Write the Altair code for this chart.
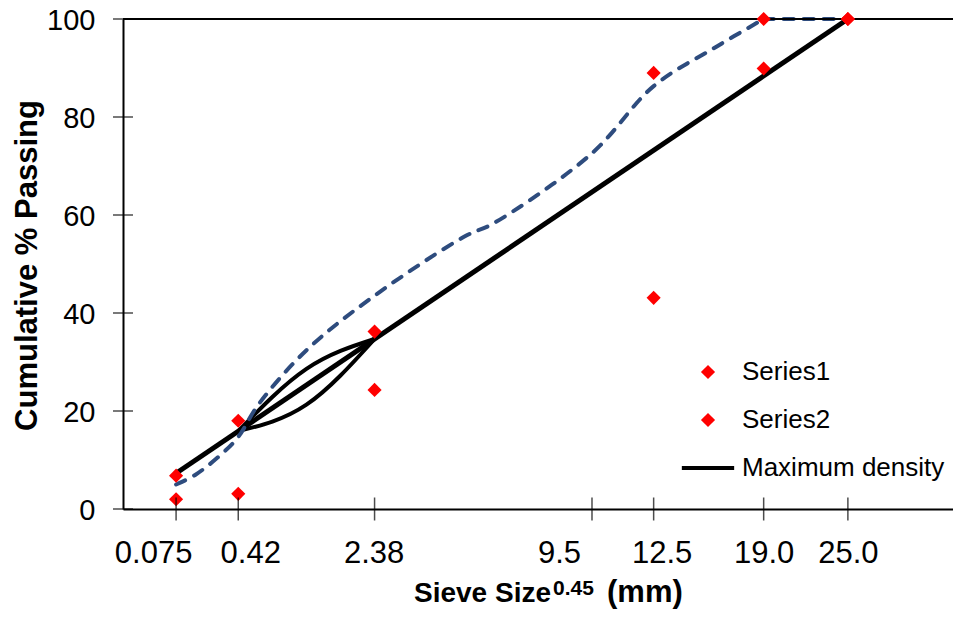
import altair as alt
import pandas as pd

FONT = "Liberation Sans"
EXP = 0.45

# ---- data ----
tick_sizes = [0.075, 0.42, 2.38, 9.5, 12.5, 19.0, 25.0]
tick_labels = ["0.075", "0.42", "2.38", "9.5", "12.5", "19.0", "25.0"]
y_values = [0, 20, 40, 60, 80, 100]

series1_sizes = [0.075, 0.42, 2.38, 12.5, 19.0, 25.0]
series1_pass = [6.8, 18.0, 36.2, 89.0, 100.0, 100.0]
series2_sizes = [0.075, 0.42, 2.38, 12.5, 19.0, 25.0]
series2_pass = [2.0, 3.1, 24.3, 43.1, 89.9, 100.0]

maxdens_sizes = [0.075, 25.0]
maxdens_pass = [7.3, 100.0]

zone_sizes = [0.42, 1.18, 2.38]
zone_upper = [15.9, 28.6, 34.7]
zone_lower = [15.9, 21.3, 34.7]

# dashed gradation curve (rising part, then the flat top between 19 and 25 mm)
blend_sizes = [0.075, 0.15, 0.3, 0.42, 0.6, 1.18, 2.36, 4.75, 5.6, 9.5, 12.5, 16.0, 19.0]
blend_pass = [5.0, 7.0, 11.3, 14.7, 21.3, 32.4, 43.4, 55.8, 58.2, 72.6, 86.3, 94.3, 100.0]
blend_top_sizes = [19.0, 25.0]
blend_top_pass = [100.0, 100.0]

legend_names = ["Series1", "Series2", "Maximum density"]
legend_colors = ["#FF0000", "#FF0000", "#000000"]
legend_shapes = ["diamond", "diamond", "M-3.7,-0.3L3.7,-0.3L3.7,0.3L-3.7,0.3Z"]

y_title = "Cumulative % Passing"
x_title_main = "Sieve Size"
x_title_exp = "0.45"
x_title_unit = "(mm)"

# per-label horizontal nudges of the hand-placed tick labels (style)
label_nudge = [-23, 12, -1, -33, 8, 0, 0]


def pw(s):
    return round(s ** EXP, 6)


def frame(sizes, values, **extra):
    d = {"v": [pw(s) for s in sizes], "pct": values}
    d.update(extra)
    return pd.DataFrame(d)


label_expr = " : ".join(
    f"abs(datum.value - {pw(s)}) < 0.001 ? '{lab}'" for s, lab in zip(tick_sizes, tick_labels)
) + " : ''"
x_label_offset = {
    "condition": [
        {"test": f"abs(datum.value - {pw(s)}) < 0.001", "value": n}
        for s, n in zip(tick_sizes, label_nudge) if n != 0
    ],
    "value": 0,
}

x_scale = alt.Scale(domain=[0, 4.874], nice=False, zero=False)
y_scale = alt.Scale(domain=[0, 100], nice=False)

x_axis = alt.Axis(
    values=[pw(s) for s in tick_sizes],
    labelExpr=label_expr,
    labelFont=FONT, labelFontSize=31, labelColor="black",
    labelBaseline="alphabetic", labelPadding=53, labelOffset=x_label_offset,
    labelFlush=False, labelOverlap=False,
    ticks=False, tickSize=0, grid=False,
    domainColor="black", domainWidth=2,
    title=None,
)
y_axis = alt.Axis(
    values=y_values,
    labelFont=FONT, labelFontSize=29, labelColor="black",
    labelBaseline="alphabetic", labelPadding=28, labelOffset=10,
    labelFlush=False, labelOverlap=False,
    ticks=False, tickSize=0, grid=False,
    domainColor="black", domainWidth=2,
    title=y_title, titleFont=FONT, titleFontSize=31,
    titleFontWeight="bold", titleColor="black",
    titleX=-86.5, titleY=246, titleBaseline="alphabetic", titleAlign="center", titleAngle=270,
)

X = alt.X("v:Q", scale=x_scale, axis=x_axis)
Y = alt.Y("pct:Q", scale=y_scale, axis=y_axis)

legend = alt.Legend(
    title=None, orient="none", legendX=572, legendY=340, padding=0,
    labelFont=FONT, labelFontSize=26, labelColor="black", labelLimit=320,
    labelOffset=21, rowPadding=22, symbolSize=200, symbolStrokeWidth=0,
)

zone_df = pd.concat([
    frame(zone_sizes, zone_upper, edge="upper"),
    frame(zone_sizes, zone_lower, edge="lower"),
])
zone = alt.Chart(zone_df).mark_line(
    interpolate="monotone", color="black", strokeWidth=4
).encode(x=X, y=Y, detail="edge:N")

maxdens = alt.Chart(frame(maxdens_sizes, maxdens_pass)).mark_line(
    color="black", strokeWidth=5
).encode(x=X, y=Y)

blend_df = pd.concat([
    frame(blend_sizes, blend_pass, part="rise"),
    frame(blend_top_sizes, blend_top_pass, part="top"),
])
blend = alt.Chart(blend_df).mark_line(
    interpolate="catmull-rom", color="#2E4C7E", strokeWidth=4,
    strokeDash=[10, 10], strokeCap="round"
).encode(x=X, y=Y, detail="part:N")

points_df = pd.concat([
    frame(series1_sizes, series1_pass, series="Series1"),
    frame(series2_sizes, series2_pass, series="Series2"),
])
points = alt.Chart(points_df).mark_point(filled=True, size=200, opacity=1).encode(
    x=X, y=Y,
    color=alt.Color("series:N", scale=alt.Scale(domain=legend_names, range=legend_colors), legend=legend),
    shape=alt.Shape("series:N", scale=alt.Scale(domain=legend_names, range=legend_shapes), legend=legend),
)

top_line = alt.Chart(pd.DataFrame({"pct": [100]})).mark_rule(
    color="black", strokeWidth=2
).encode(y=Y)

x_ticks = alt.Chart(frame(tick_sizes, [0] * len(tick_sizes))).mark_tick(
    orient="vertical", size=23, thickness=1.5, color="black"
).encode(x=X, y=Y)

y_ticks = alt.Chart(pd.DataFrame({"v": [0] * len(y_values), "pct": y_values})).mark_tick(
    orient="horizontal", size=20, thickness=1.5, color="black"
).encode(x=X, y=Y)


def title_piece(text, px, py, size):
    return alt.Chart(pd.DataFrame({"t": [text]})).mark_text(
        font=FONT, fontSize=size, fontWeight="bold", color="black",
        align="left", baseline="alphabetic"
    ).encode(x=alt.value(px), y=alt.value(py), text="t:N")


x_title = alt.layer(
    title_piece(x_title_main, 291, 583, 28),
    title_piece(x_title_exp, 430, 576, 21),
    title_piece(x_title_unit, 484, 583, 31),
)

chart = alt.layer(zone, maxdens, blend, top_line, points, x_ticks, y_ticks, x_title).properties(
    width=830, height=490,
    autosize=alt.AutoSizeParams(type="none"),
    padding={"left": 115, "top": 11, "right": 0, "bottom": 100},
).configure_view(stroke=None)

chart.save("out.html", embed_options={"renderer": "svg", "actions": False})
